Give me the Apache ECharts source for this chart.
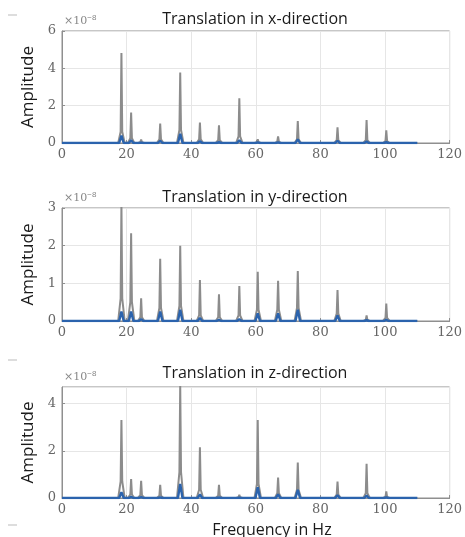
<!DOCTYPE html>
<html>
<head>
<meta charset="utf-8">
<script src="https://cdn.jsdelivr.net/npm/echarts@6/dist/echarts.min.js"></script>
<style>html,body{margin:0;padding:0;background:#fff}#c{width:465px;height:537px}</style>
</head>
<body>
<div id="c"></div>
<script>
// Peak frequencies (Hz), shared by all three spectra
const peakFreqs = [18.4, 21.4, 24.5, 30.4, 36.6, 42.7, 48.6, 54.9, 60.6, 66.9, 73.0, 85.3, 94.3, 100.4];
const freqEnd = 110;

// Translation in x-direction (units of 1e-8)
const xGrayPeaks  = [4.82, 1.63, 0.18, 1.04, 3.77, 1.10, 0.95, 2.40, 0.20, 0.35, 1.18, 0.84, 1.23, 0.68];
const xGraySkirt  = [0.60, 0.25, 0.05, 0.20, 0.70, 0.20, 0.15, 0.35, 0.05, 0.08, 0.20, 0.15, 0.15, 0.10];
const xBluePeaks  = [0.40, 0.15, 0.02, 0.12, 0.50, 0.10, 0.04, 0.15, 0.03, 0.03, 0.20, 0.12, 0.08, 0.04];

// Translation in y-direction
const yGrayPeaks  = [3.10, 2.33, 0.60, 1.65, 2.00, 1.09, 0.71, 0.93, 1.31, 1.07, 1.33, 0.82, 0.15, 0.46];
const yGraySkirt  = [0.60, 0.50, 0.10, 0.35, 0.40, 0.15, 0.10, 0.15, 0.30, 0.30, 0.35, 0.20, 0.03, 0.08];
const yBluePeaks  = [0.25, 0.25, 0.05, 0.25, 0.30, 0.08, 0.03, 0.05, 0.20, 0.20, 0.30, 0.15, 0.02, 0.03];

// Translation in z-direction
const zGrayPeaks  = [3.30, 0.80, 0.73, 0.56, 4.80, 2.15, 0.56, 0.14, 3.30, 0.87, 1.50, 0.70, 1.45, 0.28];
const zGraySkirt  = [0.70, 0.15, 0.12, 0.10, 1.10, 0.35, 0.10, 0.03, 0.60, 0.20, 0.35, 0.15, 0.20, 0.05];
const zBluePeaks  = [0.25, 0.05, 0.04, 0.03, 0.60, 0.15, 0.02, 0.01, 0.45, 0.15, 0.35, 0.12, 0.10, 0.03];

// Axis ticks
const xTicks = [0, 20, 40, 60, 80, 100, 120];
const yMaxes = [6, 3, 4.7];
const yIntervals = [2, 1, 2];
const titles = ['Translation in x-direction', 'Translation in y-direction', 'Translation in z-direction'];
const xLabelText = 'Frequency in Hz';
const yLabelText = 'Amplitude';

function spectrum(peaks, skirt, halfW, skirtW) {
  const pts = [[0, 0]];
  peakFreqs.forEach((f, i) => {
    pts.push([f - halfW, 0]);
    if (skirt) pts.push([f - skirtW, skirt[i]]);
    pts.push([f, peaks[i]]);
    if (skirt) pts.push([f + skirtW, skirt[i]]);
    pts.push([f + halfW, 0]);
  });
  pts.push([freqEnd, 0]);
  return pts;
}

const grids = [
  {left: 62, right: 12, top: 31, height: 112},
  {left: 62, right: 12, top: 208, height: 113},
  {left: 62, right: 12, top: 387, height: 111}
];
const serif = '"DejaVu Serif", "Liberation Serif", serif';
const sans = '"Open Sans", "Noto Sans", sans-serif';

const option = {
  animation: false,
  backgroundColor: '#fff',
  title: titles.map((t, i) => ({
    text: t, left: 250, textAlign: 'center',
    top: [6, 184, 360][i],
    textStyle: {fontFamily: sans, fontSize: 16, fontWeight: 'normal', color: '#1a1a1a'}
  })),
  grid: grids.map(g => Object.assign({show: true, borderColor: '#8f8f8f', borderWidth: 1, backgroundColor: '#fff'}, g)),
  xAxis: [0, 1, 2].map(i => ({
    type: 'value', gridIndex: i, min: xTicks[0], max: xTicks[xTicks.length - 1], interval: xTicks[1] - xTicks[0],
    axisLine: {show: true, lineStyle: {color: '#8f8f8f'}},
    axisTick: {show: true, inside: true, length: 3, lineStyle: {color: '#8f8f8f'}},
    axisLabel: {fontFamily: serif, fontSize: 13, color: '#666', margin: 5},
    splitLine: {show: true, lineStyle: {color: '#e6e6e6'}}
  })),
  yAxis: [0, 1, 2].map(i => ({
    type: 'value', gridIndex: i, min: 0, max: yMaxes[i], interval: yIntervals[i],
    name: yLabelText, nameLocation: 'middle', nameGap: 21,
    nameTextStyle: {fontFamily: sans, fontSize: 17, color: '#1a1a1a'},
    axisLine: {show: true, lineStyle: {color: '#8f8f8f'}},
    axisTick: {show: true, inside: true, length: 3, lineStyle: {color: '#8f8f8f'}},
    axisLabel: {fontFamily: serif, fontSize: 13, color: '#666', margin: 6, showMaxLabel: i !== 2},
    splitLine: {show: true, lineStyle: {color: '#e6e6e6'}}
  })),
  series: [
    ...[[xGrayPeaks, xGraySkirt], [yGrayPeaks, yGraySkirt], [zGrayPeaks, zGraySkirt]].map((d, i) => ({
      type: 'line', xAxisIndex: i, yAxisIndex: i, showSymbol: false, clip: true,
      data: spectrum(d[0], d[1], 1.0, 0.25),
      lineStyle: {color: '#8c8c8c', width: 2}, z: 2
    })),
    ...[xBluePeaks, yBluePeaks, zBluePeaks].map((d, i) => ({
      type: 'line', xAxisIndex: i, yAxisIndex: i, showSymbol: false, clip: true,
      data: spectrum(d, null, 0.7, 0),
      lineStyle: {color: '#2b63ad', width: 2.4}, z: 3
    }))
  ],
  graphic: [
    {
      type: 'text', x: 272, y: 530,
      style: {text: xLabelText, font: '16px ' + sans, fill: '#1a1a1a', align: 'center', verticalAlign: 'middle'}
    },
    ...[22, 199, 378].map(y => ({
      type: 'text', left: 64, top: y - 8,
      style: {
        text: '×10{s|−8}', font: '11px ' + serif, fill: '#888',
        rich: {s: {fontSize: 8, verticalAlign: 'top', padding: [0, 0, 6, 0], fill: '#888'}}
      }
    })),
    ...[15, 360, 525].map(y => ({
      type: 'line', shape: {x1: 8, y1: y, x2: 17, y2: y},
      style: {stroke: '#bbb', lineWidth: 1}
    }))
  ]
};
echarts.init(document.getElementById('c')).setOption(option);
</script>
</body>
</html>
